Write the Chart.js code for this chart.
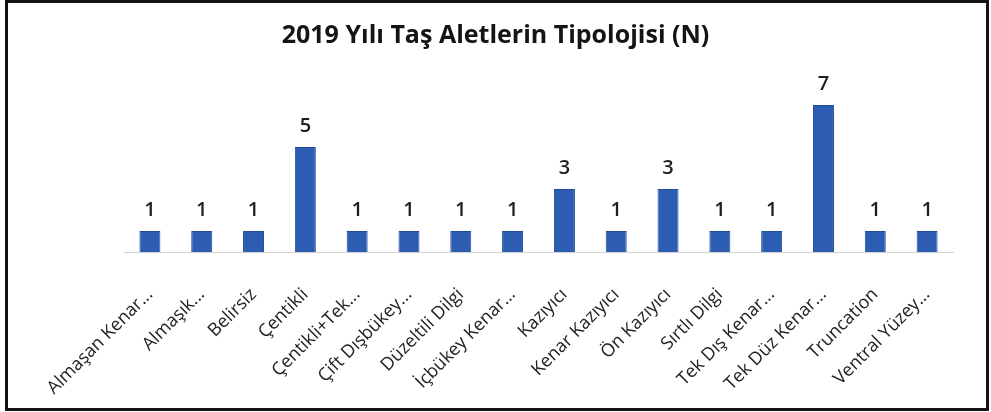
<!DOCTYPE html>
<html>
<head>
<meta charset="utf-8">
<script src="https://cdn.jsdelivr.net/npm/chart.js@4"></script>
<style>
  html, body { margin: 0; padding: 0; background: #fff; }
  #wrap { position: relative; width: 991px; height: 412px; }
  #frame { position: absolute; left: 5px; top: 0; width: 978px; height: 405px; border: 3px solid #141414; pointer-events: none; }
  canvas { position: absolute; left: 0; top: 0; }
</style>
</head>
<body>
<div id="wrap">
  <canvas id="chart" width="991" height="412"></canvas>
  <div id="frame"></div>
</div>
<script>
// kategori adları (grafikte kısaltılmış haliyle)
const categories = [
  'Almaşan Kenar...', 'Almaşık...', 'Belirsiz', 'Çentikli', 'Çentikli+Tek...',
  'Çift Dışbükey...', 'Düzeltili Dilgi', 'İçbükey Kenar...', 'Kazıyıcı', 'Kenar Kazıyıcı',
  'Ön Kazıyıcı', 'Sırtlı Dilgi', 'Tek Dış Kenar...', 'Tek Düz Kenar...', 'Truncation', 'Ventral Yüzey...'
];
const counts = [1, 1, 1, 5, 1, 1, 1, 1, 3, 1, 3, 1, 1, 7, 1, 1];
const chartTitle = '2019 Yılı Taş Aletlerin Tipolojisi (N)';

// çubukların üstüne değerleri yaz
const valueLabels = {
  id: 'valueLabels',
  afterDatasetsDraw(chart) {
    const ctx = chart.ctx;
    const meta = chart.getDatasetMeta(0);
    ctx.save();
    ctx.font = '600 20px "Open Sans"';
    ctx.fillStyle = '#1e1e1e';
    ctx.textAlign = 'center';
    ctx.textBaseline = 'alphabetic';
    meta.data.forEach((bar, i) => {
      ctx.fillText(counts[i], bar.x, bar.y - 15);
    });
    ctx.restore();
  }
};

// görünmeyen eksenler sadece boşluk bırakmak için
const spacer = (pos, w) => ({
  position: pos,
  display: true,
  min: 0,
  max: 8,
  ticks: { display: false },
  grid: { display: false },
  border: { display: false },
  afterFit(scale) { scale.width = w; }
});

new Chart(document.getElementById('chart'), {
  type: 'bar',
  data: {
    labels: categories,
    datasets: [{
      data: counts,
      backgroundColor: '#2c5db2',
      borderColor: '#224d98',
      borderWidth: 1,
      barPercentage: 0.9,
      categoryPercentage: 0.45
    }]
  },
  options: {
    responsive: false,
    animation: false,
    layout: { padding: { left: 0, right: 0, top: 0, bottom: 8 } },
    plugins: {
      legend: { display: false },
      tooltip: { enabled: false },
      title: {
        display: true,
        text: chartTitle,
        color: '#141414',
        font: { family: 'Open Sans', size: 25, weight: 'bold' },
        padding: { top: 21, bottom: 33 }
      }
    },
    scales: {
      x: {
        grid: { display: false },
        border: { display: true, color: '#d4d4d4', width: 1 },
        ticks: {
          color: '#222',
          font: { family: 'Open Sans', size: 18 },
          minRotation: 45,
          maxRotation: 45,
          autoSkip: false,
          padding: 24
        },
        afterFit(scale) { scale.height = 152; }
      },
      y: spacer('left', 124),
      y2: spacer('right', 38)
    }
  },
  plugins: [valueLabels]
});
</script>
</body>
</html>
